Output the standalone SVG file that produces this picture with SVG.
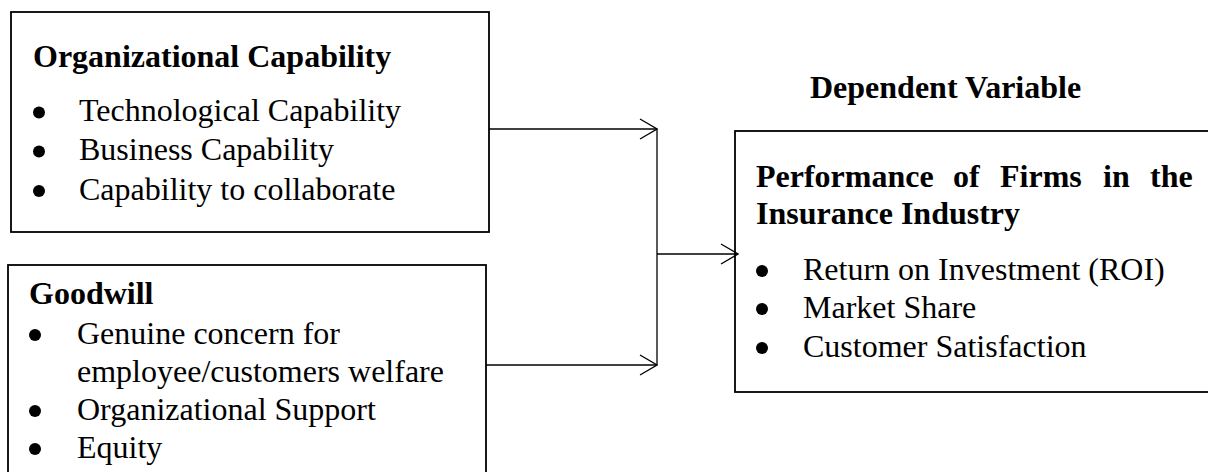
<svg xmlns="http://www.w3.org/2000/svg" width="1208" height="472" viewBox="0 0 1208 472">
  <style>
    .box { fill: #ffffff; stroke: #000000; stroke-width: 1.8; }
    .title { font-family: "Liberation Serif", "Times New Roman", serif; font-weight: bold; font-size: 32px; fill: #000000; }
    .item { font-family: "Liberation Serif", "Times New Roman", serif; font-size: 32px; fill: #000000; }
    .bullet { fill: #000000; }
    .conn { fill: none; stroke: #000000; stroke-width: 1.3; }
  </style>
  <defs>
    <marker id="arrow" viewBox="0 0 19 22" refX="18" refY="11" markerWidth="19" markerHeight="22" markerUnits="userSpaceOnUse" orient="auto">
      <path d="M1,1 L18,11 L1,21" fill="none" stroke="#000000" stroke-width="1.3"/>
    </marker>
  </defs>
  <rect width="1208" height="472" fill="#ffffff"/>

  <g id="organizational-capability">
    <rect class="box" x="11" y="12" width="478" height="220"/>
    <text class="title" x="33" y="67">Organizational Capability</text>
    <circle class="bullet" cx="39" cy="112.5" r="6"/>
    <text class="item" x="79" y="121">Technological Capability</text>
    <circle class="bullet" cx="39" cy="151.5" r="6"/>
    <text class="item" x="79" y="160">Business Capability</text>
    <circle class="bullet" cx="39" cy="191" r="6"/>
    <text class="item" x="79" y="200">Capability to collaborate</text>
  </g>

  <g id="goodwill">
    <rect class="box" x="8" y="265" width="478" height="220"/>
    <text class="title" x="29" y="304">Goodwill</text>
    <circle class="bullet" cx="35" cy="335" r="6"/>
    <text class="item" x="77" y="344">Genuine concern for</text>
    <text class="item" x="77" y="382">employee/customers welfare</text>
    <circle class="bullet" cx="35" cy="411" r="6"/>
    <text class="item" x="77" y="420">Organizational Support</text>
    <circle class="bullet" cx="35" cy="449" r="6"/>
    <text class="item" x="77" y="458">Equity</text>
  </g>

  <g id="dependent-variable-label">
    <text class="title" x="810" y="98">Dependent Variable</text>
  </g>

  <g id="performance">
    <rect class="box" x="735" y="131" width="490" height="261"/>
    <text class="title" y="187"><tspan x="756">Performance</tspan><tspan x="953">of</tspan><tspan x="1000">Firms</tspan><tspan x="1103">in</tspan><tspan x="1150">the</tspan></text>
    <text class="title" x="756" y="224">Insurance Industry</text>
    <circle class="bullet" cx="762" cy="271" r="6"/>
    <text class="item" x="803" y="280">Return on Investment (ROI)</text>
    <circle class="bullet" cx="762" cy="309" r="6"/>
    <text class="item" x="803" y="318">Market Share</text>
    <circle class="bullet" cx="762" cy="348" r="6"/>
    <text class="item" x="803" y="357">Customer Satisfaction</text>
  </g>

  <g id="connectors">
    <line class="conn" x1="489" y1="129" x2="657" y2="129" marker-end="url(#arrow)"/>
    <line class="conn" x1="486" y1="365" x2="657" y2="365" marker-end="url(#arrow)"/>
    <line class="conn" x1="657" y1="129" x2="657" y2="365"/>
    <line class="conn" x1="657" y1="254" x2="738" y2="254" marker-end="url(#arrow)"/>
  </g>
</svg>
